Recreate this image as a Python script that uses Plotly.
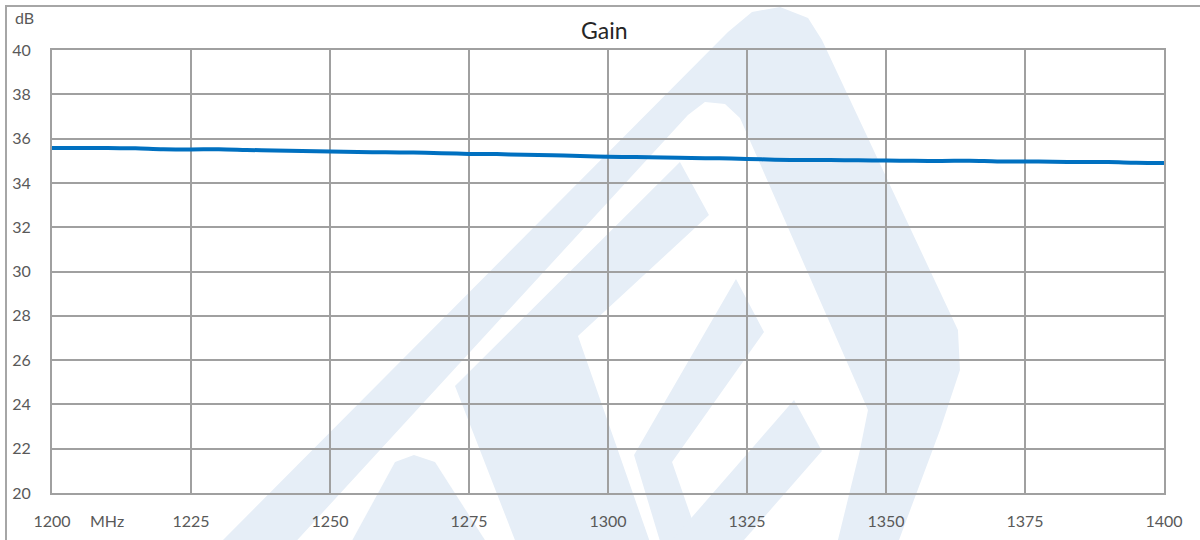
import plotly.graph_objects as go

freq_mhz = [1200, 1205, 1210, 1215, 1220, 1225, 1230, 1235, 1240, 1245,
            1250, 1255, 1260, 1265, 1270, 1275, 1280, 1285, 1290, 1295,
            1300, 1305, 1310, 1315, 1320, 1325, 1330, 1335, 1340, 1345,
            1350, 1355, 1360, 1365, 1370, 1375, 1380, 1385, 1390, 1395, 1400]
gain_db = [35.58, 35.57, 35.58, 35.56, 35.52, 35.51, 35.52, 35.49, 35.46, 35.44,
           35.42, 35.40, 35.38, 35.37, 35.34, 35.31, 35.30, 35.27, 35.25, 35.21,
           35.18, 35.17, 35.15, 35.12, 35.11, 35.08, 35.05, 35.03, 35.03, 35.02,
           35.01, 35.00, 34.99, 35.00, 34.97, 34.97, 34.96, 34.94, 34.94, 34.91, 34.90]
x_ticks = [1200, 1225, 1250, 1275, 1300, 1325, 1350, 1375, 1400]
y_ticks = [20, 22, 24, 26, 28, 30, 32, 34, 36, 38, 40]

W, H = 1200, 540
ML, MT = 52, 50
PW, PH = 1112, 443
MR = W - ML - PW
MB = H - MT - PH


def px(x, y):
    # screen pixel -> paper coordinates
    return (x - ML) / PW, (MT + PH - y) / PH


def path(pts):
    s = ""
    for i, (x, y) in enumerate(pts):
        a, b = px(x, y)
        s += ("M" if i == 0 else "L") + f"{a:.4f},{b:.4f} "
    return s + "Z "


wm = "#e6eef7"
outer = [(215, 548), (728, 32), (752, 12), (780, 7), (808, 18), (822, 40),
         (958, 330), (960, 370), (940, 430), (896, 548)]
inner = [(290, 548), (688, 115), (705, 102), (725, 104), (740, 118),
         (868, 410), (860, 450), (836, 548)]
inner_rev = list(reversed(inner))
bump = [(348, 548), (395, 462), (414, 455), (435, 462), (490, 548)]
eshape = [(455, 386), (680, 162), (709, 215), (578, 336), (652, 548), (518, 548)]
band2 = [(634, 455), (736, 279), (764, 332), (672, 462), (702, 548), (662, 548)]
band3 = [(665, 548), (794, 400), (822, 451), (737, 548)]

shapes = [
    dict(type="path", xref="paper", yref="paper", layer="below",
         path=path(outer) + path(inner_rev), fillcolor=wm, line=dict(width=0)),
]
for poly in (bump, eshape, band2, band3):
    shapes.append(dict(type="path", xref="paper", yref="paper", layer="below",
                       path=path(poly), fillcolor=wm, line=dict(width=0)))

bx0, by1 = px(6, 6)
bx1, by0 = px(1210, 550)
shapes.append(dict(type="rect", xref="paper", yref="paper", layer="above",
                   x0=bx0, x1=bx1, y0=by0, y1=by1,
                   line=dict(color="#a6a6a6", width=2), fillcolor="rgba(0,0,0,0)"))

fig = go.Figure()
fig.add_trace(go.Scatter(x=freq_mhz, y=gain_db, mode="lines",
                         line=dict(color="#0070c0", width=4, shape="spline"),
                         showlegend=False, hoverinfo="x+y"))

font_family = "Lato, 'Open Sans', sans-serif"
tx, ty = px(604, 30)
fig.update_layout(
    width=W, height=H,
    margin=dict(l=ML, r=MR, t=MT, b=MB, autoexpand=False),
    paper_bgcolor="white", plot_bgcolor="rgba(0,0,0,0)",
    font=dict(family=font_family, color="#595959", size=16),
    shapes=shapes,
    xaxis=dict(range=[1200, 1400], tickvals=x_ticks, ticktext=[str(v) for v in x_ticks],
               showgrid=True, gridcolor="#a0a0a0", gridwidth=2, automargin=False,
               showline=True, linecolor="#a0a0a0", linewidth=2, mirror=True,
               zeroline=False, ticks="", ticklabelstandoff=13,
               tickfont=dict(size=16, color="#595959")),
    yaxis=dict(range=[20, 40], tickvals=y_ticks, automargin=False,
               showgrid=True, gridcolor="#a0a0a0", gridwidth=2,
               showline=True, linecolor="#a0a0a0", linewidth=2, mirror=True,
               zeroline=False, ticks="", ticklabelstandoff=16,
               tickfont=dict(size=16, color="#595959")),
    annotations=[
        dict(text="Gain", xref="paper", yref="paper", x=tx, y=ty,
             showarrow=False, xanchor="center", yanchor="middle",
             font=dict(size=23, color="#262626")),
        dict(text="dB", xref="paper", yref="paper", x=px(24, 18)[0], y=px(24, 18)[1],
             showarrow=False, xanchor="center", yanchor="middle",
             font=dict(size=16, color="#595959")),
        dict(text="MHz", xref="paper", yref="paper", x=px(107, 520)[0], y=px(107, 520)[1],
             showarrow=False, xanchor="center", yanchor="middle",
             font=dict(size=16, color="#595959")),
    ],
)

fig.write_html("out.html", config={"displayModeBar": False},
               post_script="document.body.style.margin='0px';")
